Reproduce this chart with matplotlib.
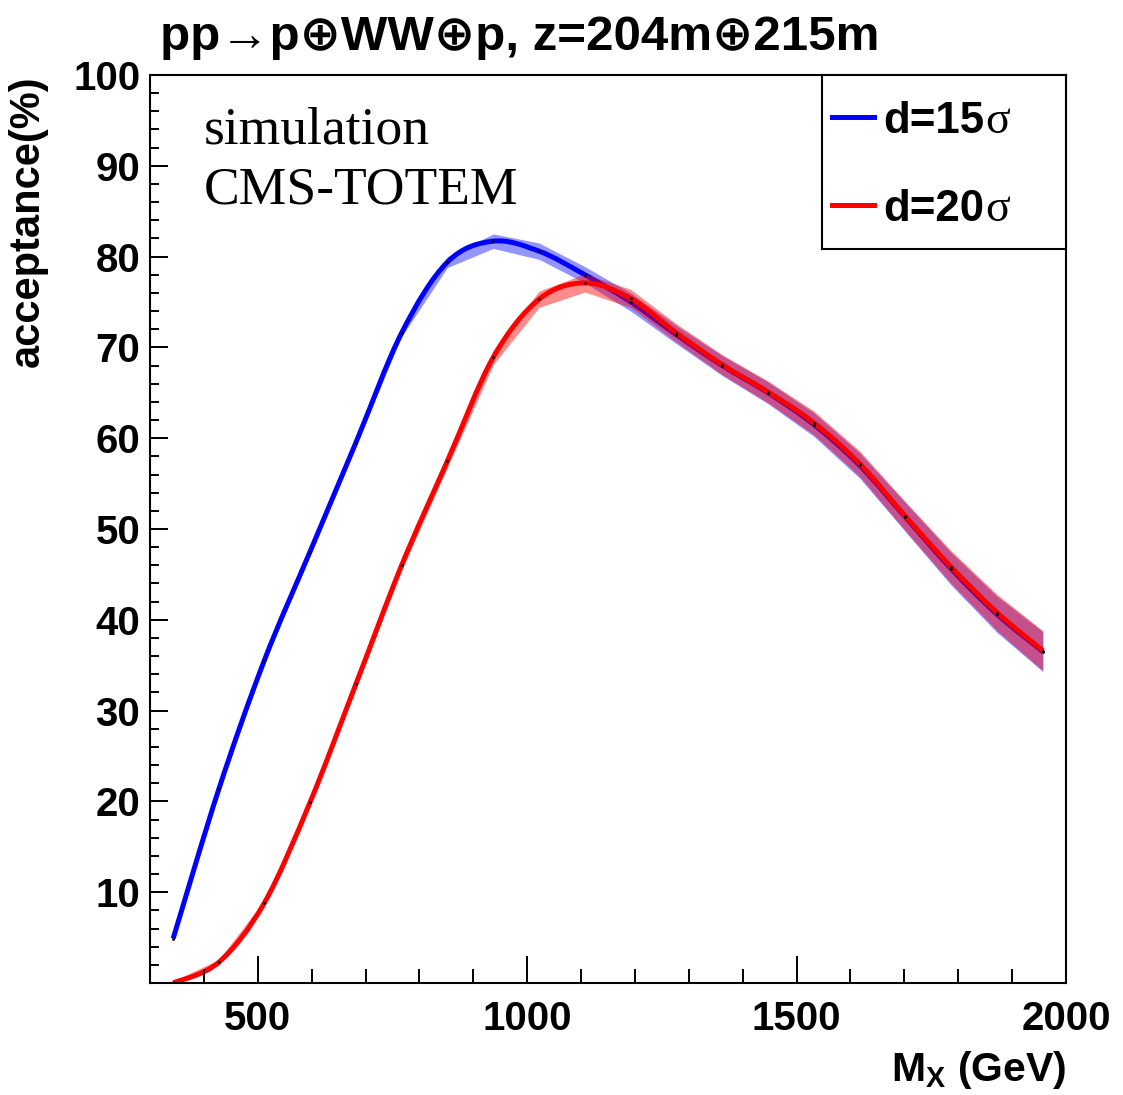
import matplotlib
matplotlib.use("Agg")
import matplotlib.pyplot as plt
import numpy as np
from matplotlib.ticker import MultipleLocator, FixedLocator
from matplotlib.patches import Rectangle, PathPatch
from matplotlib.path import Path
from matplotlib.lines import Line2D

# ---- data ----
mass = [343, 428, 512, 597, 682, 767, 852, 937, 1022, 1107,
        1192, 1277, 1362, 1447, 1532, 1617, 1702, 1787, 1872, 1957]
acc_15 = [4.9, 21.4, 35.5, 47.5, 59.5, 71.6, 79.4, 81.7, 80.6, 78.0,
          75.0, 71.4, 68.0, 65.0, 61.5, 57.0, 51.3, 45.6, 40.6, 36.5]
err_15 = [0.1, 0.15, 0.2, 0.25, 0.3, 0.4, 0.6, 0.8, 0.9, 0.9,
          1.0, 1.0, 1.1, 1.2, 1.3, 1.4, 1.6, 1.8, 2.0, 2.2]
acc_20 = [0.0, 2.3, 8.8, 19.9, 32.9, 46.0, 57.5, 68.9, 75.3, 77.1,
          75.4, 71.6, 68.1, 65.1, 61.7, 57.2, 51.4, 45.8, 40.8, 36.6]
err_20 = [0.2, 0.3, 0.3, 0.4, 0.5, 0.5, 0.7, 0.8, 0.9, 1.0,
          1.0, 1.0, 1.1, 1.2, 1.3, 1.4, 1.6, 1.8, 2.0, 2.2]
labels = ["d=15", "d=20"]
title = "pp\u2192p\u2295WW\u2295p, z=204m\u2295215m"

m = np.array(mass, dtype=float)
a15, e15 = np.array(acc_15), np.array(err_15)
a20, e20 = np.array(acc_20), np.array(err_20)

SANS = ["Liberation Sans", "DejaVu Sans"]
SERIF = ["Liberation Serif", "DejaVu Serif"]


def smooth_path(x, y):
    """Catmull-Rom curve through the points, as cubic Bezier segments."""
    P = np.column_stack([x, y])
    n = len(P)
    verts = [P[0]]
    codes = [Path.MOVETO]
    for i in range(n - 1):
        p0 = P[i - 1] if i > 0 else P[i]
        p1 = P[i]
        p2 = P[i + 1]
        p3 = P[i + 2] if i + 2 < n else P[i + 1]
        c1 = p1 + (p2 - p0) / 6.0
        c2 = p2 - (p3 - p1) / 6.0
        verts += [c1, c2, p2]
        codes += [Path.CURVE4] * 3
    return Path(np.array(verts), codes)


fig = plt.figure(figsize=(11.23, 10.95), dpi=100)
ax = fig.add_axes([150/1123, 1-983/1095, (1066-150)/1123, (983-75)/1095])

ax.fill_between(m, a15-e15, a15+e15, color=(0, 0, 1), alpha=0.42, lw=0)
ax.add_patch(PathPatch(smooth_path(m, a15), fill=False, edgecolor=(0, 0, 1),
                       lw=3.6, capstyle="butt"))
ax.fill_between(m, np.clip(a20-e20, 0, None), a20+e20, color=(1, 0, 0), alpha=0.45, lw=0)
ax.add_patch(PathPatch(smooth_path(m, a20), fill=False, edgecolor=(1, 0, 0),
                       lw=3.6, capstyle="butt"))
ax.plot(m, a15, ls="none", marker="o", ms=1.0, color="black")
ax.plot(m, a20, ls="none", marker="o", ms=1.0, color="black")

ax.set_xlim(300, 2000)
ax.set_ylim(0, 100)

ax.xaxis.set_major_locator(FixedLocator([500, 1000, 1500, 2000]))
ax.xaxis.set_minor_locator(MultipleLocator(100))
ax.yaxis.set_major_locator(FixedLocator(list(range(10, 101, 10))))
ax.yaxis.set_minor_locator(MultipleLocator(2))

ax.tick_params(axis="x", which="major", direction="in", length=19.5, width=1.4,
               pad=12, labelsize=29)
ax.tick_params(axis="x", which="minor", direction="in", length=9.8, width=1.4)
ax.tick_params(axis="y", which="major", direction="in", length=13, width=1.4,
               pad=7, labelsize=29)
ax.tick_params(axis="y", which="minor", direction="in", length=6.5, width=1.4)
for lab in ax.get_xticklabels() + ax.get_yticklabels():
    lab.set_fontfamily(SANS)
    lab.set_fontweight("bold")
for s in ax.spines.values():
    s.set_linewidth(1.5)

plt.rcParams["mathtext.fontset"] = "custom"
plt.rcParams["mathtext.bf"] = "Liberation Sans:bold"
plt.rcParams["mathtext.rm"] = "Liberation Sans:bold"
plt.rcParams["mathtext.it"] = "Liberation Sans:bold"

# axis titles
fig.text(1066/1123, 1-1081/1095, "M$_{\\mathbf{X}}$ (GeV)", ha="right", va="baseline",
         fontsize=29.5, fontweight="bold", family=SANS)
fig.text(48/1123, 1-75/1095, "acceptance(%)", rotation=90, ha="right", va="top",
         fontsize=30, fontweight="bold", family=SANS)

# title
fig.text(160/1123, 1-50/1095, title, ha="left", va="baseline", fontsize=35.5,
         fontweight="bold", family=SANS)

# simulation text
fig.text(204/1123, 1-143/1095, "simulation", ha="left",
         va="baseline", fontsize=38.5, family=SERIF)
fig.text(204/1123, 1-204/1095, "CMS-TOTEM", ha="left",
         va="baseline", fontsize=38.5, family=SERIF)

# legend (manual)
fig.patches.append(Rectangle((822/1123, 1-249/1095), (1066-822)/1123, (249-75)/1095,
                             transform=fig.transFigure, fill=True, facecolor="white",
                             edgecolor="black", lw=1.5, zorder=5))
ycoords = [117, 205]
colors = [(0, 0, 1), (1, 0, 0)]
fig.canvas.draw()
renderer = fig.canvas.get_renderer()
for lab, yy, c in zip(labels, ycoords, colors):
    fig.lines.append(Line2D([832/1123, 874/1123], [1-yy/1095, 1-yy/1095],
                            transform=fig.transFigure, color=c, lw=3.6, zorder=6))
    t = fig.text(883/1123, 1-(yy+16)/1095, lab, ha="left", va="baseline",
                 fontsize=31.5, fontweight="bold", family=SANS, zorder=7)
    bb = t.get_window_extent(renderer=renderer)
    fig.text((bb.x1 + 1)/1123, 1-(yy+16)/1095, "\u03c3", ha="left", va="baseline",
             fontsize=33, family=SERIF, zorder=7)

fig.savefig("out.png", dpi=100, facecolor="white")
